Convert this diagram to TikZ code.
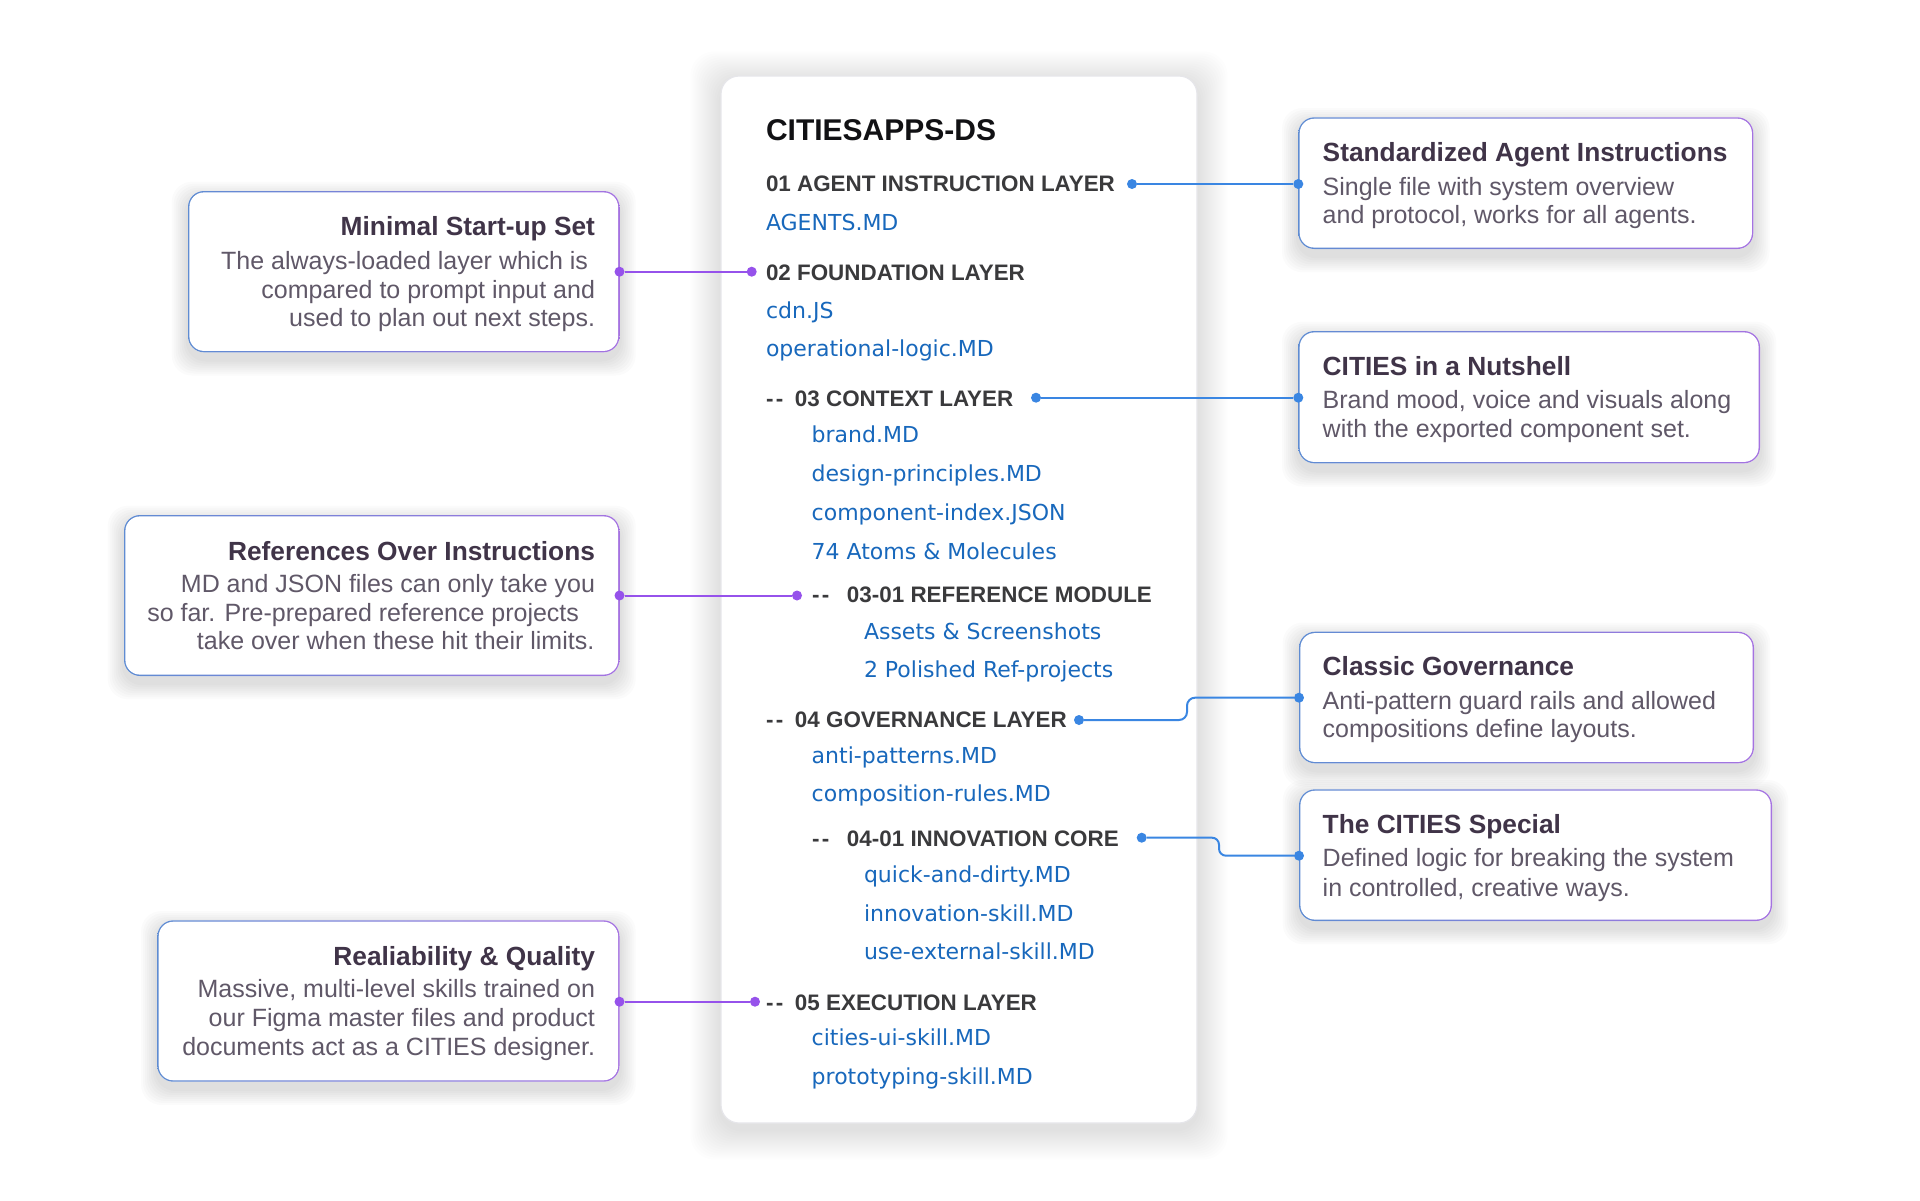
\documentclass[tikz,border=0pt]{standalone}
\usepackage{fontspec}
\setmainfont{Liberation Sans}
\newfontfamily\djv{DejaVu Sans}
\definecolor{linkblue}{RGB}{24,104,188}
\definecolor{headgray}{RGB}{58,58,60}
\definecolor{titleblack}{RGB}{17,17,20}
\definecolor{ctitle}{RGB}{64,52,72}
\definecolor{cbody}{RGB}{96,88,104}
\definecolor{purpline}{RGB}{150,82,235}
\definecolor{blueline}{RGB}{58,134,226}
\definecolor{bordblue}{RGB}{95,140,210}
\definecolor{bordpurp}{RGB}{165,115,225}
\definecolor{cardline}{RGB}{230,230,234}
\newcommand\fMain{\fontsize{30}{36}\selectfont\bfseries}
\newcommand\fHead{\fontsize{22.4}{26}\selectfont\bfseries}
\newcommand\fLink{\djv\fontsize{22}{26}\selectfont}
\newcommand\fCTitle{\fontsize{26.3}{30}\selectfont\bfseries}
\newcommand\fCBody{\fontsize{25}{29}\selectfont}
\newcommand\dashA{\makebox[29pt][l]{-\kern2.5pt-}}
\newcommand\dashB{\makebox[35pt][l]{-\kern2.5pt-}}
\pgfdeclarelayer{bglayer}
\pgfdeclarelayer{shadowlayer}
\pgfsetlayers{bglayer,shadowlayer,main}
% soft shadow: #1 node, #2 max spread, #3 y offset, #4 opacity per layer, #5 corner radius
\newcommand\softshadow[5]{%
  \begin{pgfonlayer}{shadowlayer}
  \foreach \s in {2,4,...,#2}{%
    \fill[black, opacity=#4, rounded corners=#5]
      ([shift={(-\s*1pt,-\s*1pt-#3)}]#1.south west) rectangle ([shift={(\s*1pt,\s*1pt-#3)}]#1.north east);
  }
  \end{pgfonlayer}}
\tikzset{
  card/.style={draw=cardline, line width=1.2pt, fill=white, rounded corners=18pt, inner sep=0pt},
  callout/.style={rounded corners=16pt, fill=white, inner sep=0pt,
    path picture={
      \shade[left color=bordblue, right color=bordpurp] (path picture bounding box.south west) rectangle (path picture bounding box.north east);
      \fill[white, rounded corners=14.6pt] ([shift={(1.4pt,1.4pt)}]path picture bounding box.south west) rectangle ([shift={(-1.4pt,-1.4pt)}]path picture bounding box.north east);
    }},
  txt/.style={inner sep=0pt, outer sep=0pt},
  mtitle/.style={txt, anchor=base west, text=titleblack, font=\fMain},
  head/.style={txt, anchor=base west, text=headgray, font=\fHead},
  lnk/.style={txt, anchor=base west, text=linkblue, font=\fLink},
  ltitle/.style={txt, anchor=base east, text=ctitle, font=\fCTitle},
  lbody/.style={txt, anchor=base east, text=cbody, font=\fCBody},
  rtitle/.style={txt, anchor=base west, text=ctitle, font=\fCTitle},
  rbody/.style={txt, anchor=base west, text=cbody, font=\fCBody},
  pdot/.style={circle, fill=purpline, inner sep=0pt, minimum size=10pt},
  bdot/.style={circle, fill=blueline, inner sep=0pt, minimum size=10pt},
  pline/.style={draw=purpline, line width=2pt},
  bline/.style={draw=blueline, line width=2pt},
}
\begin{document}
\begin{tikzpicture}[x=1pt,y=-1pt]
\useasboundingbox (0,0) rectangle (1920,1200);
\begin{pgfonlayer}{bglayer}
\fill[white] (0,0) rectangle (1920,1200);
\end{pgfonlayer}

% central card
\node[card, minimum width=476pt, minimum height=1047pt] (card) at (959,599.5) {};
\softshadow{card}{30}{6pt}{0.008}{24pt}
\node[mtitle] (t0) at (766,140) {CITIESAPPS-DS};
\node[head] (h1) at (766,191.7) {01 AGENT INSTRUCTION LAYER};
\node[lnk] (k1) at (766,230) {AGENTS.MD};
\node[head] (h2) at (766,280) {02 FOUNDATION LAYER};
\node[lnk] (k2) at (766,318) {cdn.JS};
\node[lnk] (k3) at (766,356) {operational-logic.MD};
\node[head] (h3) at (766,406.7) {\dashA 03 CONTEXT LAYER};
\node[lnk] (k4) at (811.7,442.7) {brand.MD};
\node[lnk] (k5) at (811.7,481) {design-principles.MD};
\node[lnk] (k6) at (811.7,520) {component-index.JSON};
\node[lnk] (k7) at (811.7,559) {74 Atoms \& Molecules};
\node[head] (h31) at (812,602.7) {\dashB 03-01 REFERENCE MODULE};
\node[lnk] (k8) at (864,639) {Assets \& Screenshots};
\node[lnk] (k9) at (864,677) {2 Polished Ref-projects};
\node[head] (h4) at (766,727.3) {\dashA 04 GOVERNANCE LAYER};
\node[lnk] (k10) at (811.7,763) {anti-patterns.MD};
\node[lnk] (k11) at (811.7,801.7) {composition-rules.MD};
\node[head] (h41) at (812,846.7) {\dashB 04-01 INNOVATION CORE};
\node[lnk] (k12) at (864,882.7) {quick-and-dirty.MD};
\node[lnk] (k13) at (864,921) {innovation-skill.MD};
\node[lnk] (k14) at (864,959.3) {use-external-skill.MD};
\node[head] (h5) at (766,1010) {\dashA 05 EXECUTION LAYER};
\node[lnk] (k15) at (811.7,1045.7) {cities-ui-skill.MD};
\node[lnk] (k16) at (811.7,1084) {prototyping-skill.MD};

% left callouts
\node[callout, minimum width=431.5pt, minimum height=161.3pt] (B1) at (403.75,271.65) {};
\softshadow{B1}{16}{7pt}{0.014}{20pt}
\node[ltitle] (B1t) at (595,235) {Minimal Start-up Set};
\node[lbody] (B1a) at (588,269.3) {The always-loaded layer which is};
\node[lbody] (B1b) at (595,298.3) {compared to prompt input and};
\node[lbody] (B1c) at (595,326.7) {used to plan out next steps.};

\node[callout, minimum width=495.5pt, minimum height=161pt] (B2) at (371.75,595.5) {};
\softshadow{B2}{16}{7pt}{0.014}{20pt}
\node[ltitle] (B2t) at (595,560) {References Over Instructions};
\node[lbody] (B2a) at (595,592.7) {MD and JSON files can only take you};
\node[lbody] (B2b) at (579,621) {so far. Pre-prepared reference projects};
\node[lbody] (B2c) at (594.3,649.3) {take over when these hit their limits.};

\node[callout, minimum width=462.2pt, minimum height=161.4pt] (B3) at (388.4,1001) {};
\softshadow{B3}{16}{7pt}{0.014}{20pt}
\node[ltitle] (B3t) at (595,965) {Realiability \& Quality};
\node[lbody] (B3a) at (595,997.7) {Massive, multi-level skills trained on};
\node[lbody] (B3b) at (595,1026.7) {our Figma master files and product};
\node[lbody] (B3c) at (595,1055.7) {documents act as a CITIES designer.};

% right callouts
\node[callout, minimum width=455pt, minimum height=131.7pt] (R1) at (1525.8,183.15) {};
\softshadow{R1}{16}{7pt}{0.014}{20pt}
\node[rtitle] (R1t) at (1322.7,161.7) {Standardized Agent Instructions};
\node[rbody] (R1a) at (1322.7,195) {Single file with system overview};
\node[rbody] (R1b) at (1322.7,223.3) {and protocol, works for all agents.};

\node[callout, minimum width=461.7pt, minimum height=132.3pt] (R2) at (1529.15,397.15) {};
\softshadow{R2}{16}{7pt}{0.014}{20pt}
\node[rtitle] (R2t) at (1322.7,375) {CITIES in a Nutshell};
\node[rbody] (R2a) at (1322.7,408.3) {Brand mood, voice and visuals along};
\node[rbody] (R2b) at (1322.7,437.3) {with the exported component set.};

\node[callout, minimum width=455pt, minimum height=131.6pt] (R3) at (1526.5,697.5) {};
\softshadow{R3}{16}{7pt}{0.014}{20pt}
\node[rtitle] (R3t) at (1322.7,675) {Classic Governance};
\node[rbody] (R3a) at (1322.7,709.3) {Anti-pattern guard rails and allowed};
\node[rbody] (R3b) at (1322.7,737.3) {compositions define layouts.};

\node[callout, minimum width=473pt, minimum height=131.7pt] (R4) at (1535.5,855.15) {};
\softshadow{R4}{16}{7pt}{0.014}{20pt}
\node[rtitle] (R4t) at (1322.7,833.3) {The CITIES Special};
\node[rbody] (R4a) at (1322.7,866.7) {Defined logic for breaking the system};
\node[rbody] (R4b) at (1322.7,896) {in controlled, creative ways.};

% dots
\node[bdot] (bA) at (1132,184) {};
\node[bdot] (rA) at (1298.3,184) {};
\node[bdot] (bC) at (1036,397.7) {};
\node[bdot] (rC) at (1298.3,397.7) {};
\node[bdot] (bG) at (1079,720) {};
\node[bdot] (rG) at (1299,697.7) {};
\node[bdot] (bI) at (1141.7,837.7) {};
\node[bdot] (rI) at (1299,855.7) {};
\node[pdot] (pF) at (751.7,271.7) {};
\node[pdot] (lF) at (619.5,271.7) {};
\node[pdot] (pR) at (797,595.5) {};
\node[pdot] (lR) at (619.5,595.5) {};
\node[pdot] (pE) at (755,1001.7) {};
\node[pdot] (lE) at (619.5,1001.7) {};

% connectors
\draw[bline] (bA) -- (rA);
\draw[bline] (bC) -- (rC);
\draw[bline, rounded corners=8pt] (bG) -- (1187,720) -- (1187,697.7) -- (rG);
\draw[bline, rounded corners=7pt] (bI) -- (1219,837.7) -- (1219,855.7) -- (rI);
\draw[pline] (lF) -- (pF);
\draw[pline] (lR) -- (pR);
\draw[pline] (lE) -- (pE);
\end{tikzpicture}
\end{document}
